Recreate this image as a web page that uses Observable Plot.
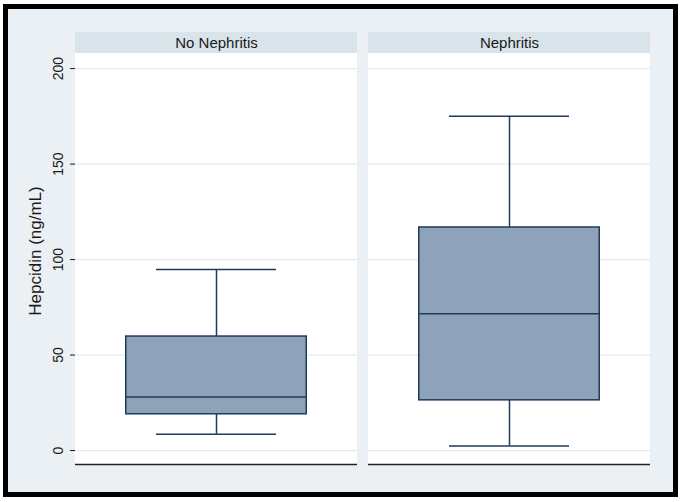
<!DOCTYPE html>
<html>
<head>
<meta charset="utf-8">
<script src="https://cdn.jsdelivr.net/npm/d3@7"></script>
<script src="https://cdn.jsdelivr.net/npm/@observablehq/plot@0.6"></script>
<style>
  html, body { margin: 0; padding: 0; background: #ffffff; }
  #outer { position: absolute; left: 3px; top: 4px; width: 675px; height: 493px; background: #000; }
  #inner { position: absolute; left: 8px; top: 9px; width: 665px; height: 483px; background: #EAF0F3; }
  #chart { position: absolute; left: 0; top: 0; width: 683px; height: 502px; }
  #chart svg { background: transparent !important; }
</style>
</head>
<body>
<div id="outer"></div>
<div id="inner"></div>
<div id="chart"></div>
<script>
// ---- data ----
const groups = ["No Nephritis", "Nephritis"];
const lowerWhisker = [8.5, 2.4];
const q1 = [19, 26.3];
const median = [28, 71.6];
const q3 = [59.7, 116.8];
const upperWhisker = [94.8, 175];
const yTicks = [0, 50, 100, 150, 200];
const yDomain = [-7.3, 207.9];
const yTitle = "Hepcidin (ng/mL)";

// ---- build tables ----
const boxes = groups.map((g, i) => ({
  group: g, lower: lowerWhisker[i], q1: q1[i], median: median[i], q3: q3[i], upper: upperWhisker[i]
}));
const grid = groups.flatMap(g => yTicks.map(v => ({group: g, v})));

const boxFill = "#8EA3BA";
const boxStroke = "#1F3A5F";
const headerFill = "#D8E3EA";
const gridColor = "#E5EBEE";
const boxInset = 50.75;
const capInset = 81;

const chart = Plot.plot({
  width: 683,
  height: 502,
  marginLeft: 75,
  marginRight: 32,
  marginTop: 53,
  marginBottom: 38,
  style: {background: "transparent", fontFamily: "'Liberation Sans', Arial, sans-serif", color: "#1a1a1a"},
  x: {domain: groups, axis: null, paddingInner: 0.0375, paddingOuter: 0},
  y: {domain: yDomain, ticks: yTicks, tickSize: 5, tickFormat: () => "", line: true, label: null},
  marks: [
    // panel backgrounds
    Plot.barY(groups, {x: d => d, y1: () => yDomain[0], y2: () => yDomain[1], fill: "white"}),
    // header strips
    Plot.barY(groups, {x: d => d, y1: () => yDomain[1], y2: () => yDomain[1], insetTop: -21, fill: headerFill}),
    Plot.text(groups, {x: d => d, text: d => d, frameAnchor: "top", lineAnchor: "middle", dy: -10, fontSize: 15, fill: "#1a1a1a"}),
    // gridlines per panel
    Plot.tickY(grid, {x: "group", y: "v", stroke: gridColor, strokeWidth: 1.2}),
    // bottom axis line per panel
    Plot.tickY(groups, {x: d => d, y: () => yDomain[0], stroke: "#222", strokeWidth: 1.3}),
    // whiskers
    Plot.ruleX(boxes, {x: "group", y1: "q3", y2: "upper", stroke: boxStroke, strokeWidth: 1.5}),
    Plot.ruleX(boxes, {x: "group", y1: "lower", y2: "q1", stroke: boxStroke, strokeWidth: 1.5}),
    Plot.tickY(boxes, {x: "group", y: "upper", stroke: boxStroke, strokeWidth: 1.5, insetLeft: capInset, insetRight: capInset}),
    Plot.tickY(boxes, {x: "group", y: "lower", stroke: boxStroke, strokeWidth: 1.5, insetLeft: capInset, insetRight: capInset}),
    // boxes
    Plot.barY(boxes, {x: "group", y1: "q1", y2: "q3", fill: boxFill, stroke: boxStroke, strokeWidth: 1.5, insetLeft: boxInset, insetRight: boxInset}),
    Plot.tickY(boxes, {x: "group", y: "median", stroke: boxStroke, strokeWidth: 1.5, insetLeft: boxInset, insetRight: boxInset}),
    // y tick labels (rotated)
    Plot.text(yTicks, {y: d => d, text: d => String(d), frameAnchor: "left", textAnchor: "middle", lineAnchor: "middle", dx: -17, rotate: -90, fontSize: 14, fill: "#1a1a1a"}),
    // y title
    Plot.text([yTitle], {text: d => d, frameAnchor: "left", textAnchor: "middle", lineAnchor: "middle", dx: -40, dy: -8, rotate: -90, fontSize: 17, fill: "#1a1a1a"})
  ]
});
document.getElementById("chart").appendChild(chart);
</script>
</body>
</html>
